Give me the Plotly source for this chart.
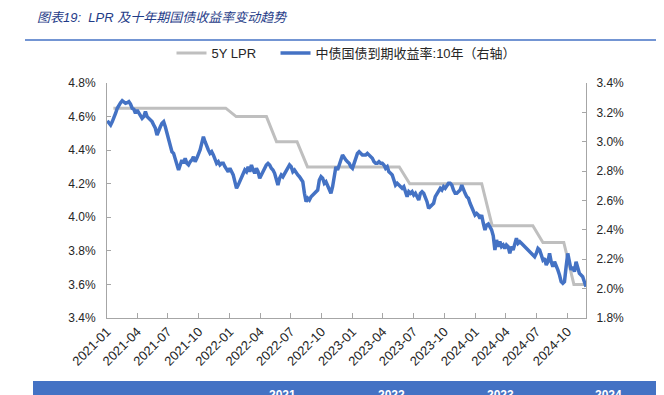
import pandas as pd
import plotly.graph_objects as go

# ---- data ----
lpr_months_start = "2021-01-01"
lpr_values = (
    [4.65] * 12 +   # 2021-01 .. 2021-12
    [4.60] * 4 +    # 2022-01 .. 2022-04
    [4.45] * 3 +    # 2022-05 .. 2022-07
    [4.30] * 10 +   # 2022-08 .. 2023-05
    [4.20] * 8 +    # 2023-06 .. 2024-01
    [3.95] * 5 +    # 2024-02 .. 2024-06
    [3.85] * 3 +    # 2024-07 .. 2024-09
    [3.60] * 2      # 2024-10 .. 2024-11
)
lpr_dates = pd.date_range(lpr_months_start, periods=len(lpr_values), freq="MS") + pd.Timedelta(days=19)

cgb_start = "2021-01-02"
cgb_end = "2024-11-25"
cgb10_values = [
    3.143, 3.126, 3.114, 3.137, 3.159, 3.194, 3.228, 3.250, 3.266, 3.280,
    3.273, 3.262, 3.266, 3.273, 3.257, 3.228, 3.221, 3.194, 3.216, 3.194,
    3.171, 3.159, 3.171, 3.205, 3.171, 3.159, 3.148, 3.137, 3.114, 3.092,
    3.046, 3.068, 3.102, 3.126, 3.137, 3.102, 3.057, 3.012, 2.955, 2.932,
    2.921, 2.876, 2.842, 2.808, 2.842, 2.876, 2.853, 2.887, 2.853, 2.842,
    2.864, 2.876, 2.898, 2.864, 2.887, 2.910, 2.944, 2.989,
    3.034, 3.000, 2.966, 2.944, 2.921, 2.932, 2.910, 2.887, 2.853, 2.864,
    2.842, 2.853, 2.853, 2.830, 2.808, 2.796, 2.819, 2.796, 2.774, 2.728,
    2.683, 2.705, 2.728, 2.751, 2.785, 2.808, 2.796, 2.830, 2.796, 2.842,
    2.808, 2.785, 2.819, 2.796, 2.751, 2.774, 2.808, 2.830, 2.842, 2.853,
    2.842, 2.819, 2.808, 2.785, 2.751, 2.705, 2.751, 2.774, 2.762, 2.785,
    2.796, 2.830, 2.842, 2.830, 2.796, 2.808,
    2.785, 2.774, 2.762, 2.740, 2.728, 2.649, 2.592, 2.615, 2.603, 2.626,
    2.637, 2.649, 2.660, 2.671, 2.740, 2.762, 2.751, 2.717, 2.728, 2.705,
    2.683, 2.649, 2.694, 2.785, 2.830, 2.808, 2.853, 2.876, 2.910, 2.887,
    2.876, 2.864, 2.853, 2.830, 2.819, 2.853, 2.898, 2.921, 2.932, 2.921,
    2.910, 2.910, 2.910, 2.921, 2.910, 2.898, 2.887, 2.864, 2.853, 2.853,
    2.864, 2.853, 2.853, 2.842, 2.819, 2.830, 2.796, 2.785,
    2.774, 2.740, 2.705, 2.717, 2.705, 2.694, 2.683, 2.694, 2.660, 2.626,
    2.660, 2.649, 2.660, 2.637, 2.649, 2.626, 2.603, 2.649, 2.660, 2.649,
    2.626, 2.592, 2.547, 2.558, 2.569, 2.581, 2.626, 2.649, 2.671, 2.683,
    2.671, 2.694, 2.683, 2.705, 2.717, 2.717, 2.705, 2.671, 2.649, 2.649,
    2.660, 2.671, 2.705, 2.683, 2.649, 2.626, 2.615, 2.581, 2.558, 2.535,
    2.501, 2.512, 2.501, 2.478, 2.501, 2.445, 2.399, 2.433,
    2.440, 2.420, 2.400, 2.360, 2.263, 2.331, 2.286, 2.320, 2.286, 2.297,
    2.274, 2.297, 2.286, 2.240, 2.286, 2.263, 2.309, 2.343, 2.309, 2.320,
    2.309, 2.297, 2.286, 2.274, 2.263, 2.251, 2.240, 2.229, 2.217, 2.240,
    2.274, 2.263, 2.229, 2.195, 2.206, 2.161, 2.183, 2.240, 2.183, 2.149,
    2.183, 2.161, 2.127, 2.093, 2.047, 2.036, 2.047, 2.149, 2.240, 2.183,
    2.127, 2.149, 2.115, 2.183, 2.138, 2.104, 2.093, 2.081, 2.047, 2.013,
]
cgb_dates = pd.date_range(cgb_start, cgb_end, periods=len(cgb10_values))

x_range = ["2021-01-01", "2024-11-25"]
x_tick_vals = pd.date_range("2021-01-01", "2024-10-01", freq="QS")
x_tick_text = [d.strftime("%Y-%m") for d in x_tick_vals]
bottom_years = ["2021", "2022", "2023", "2024"]

title_text = "图表19:  LPR 及十年期国债收益率变动趋势"
lpr_name = "5Y LPR" + "\u00a0" * 4
cgb_name = "中债国债到期收益率:10年（右轴）"

# ---- figure ----
FONT = "Liberation Sans, Arial, Noto Sans CJK SC, sans-serif"
AXIS_COLOR = "#A6A6A6"
TEXT_COLOR = "#262626"
BLUE = "#4472C4"
GRAY = "#BFBFBF"

# the page body adds an 8px margin, so the figure is laid out in page pixels minus 8
OFF = 8
W, H = 664 - OFF, 395 - OFF
PLOT_L, PLOT_R, PLOT_T, PLOT_B = 107, 586, 83, 318   # page pixels of the plot area
L, R = PLOT_L - OFF, W - (PLOT_R - OFF)
T, B = PLOT_T - OFF, H - (PLOT_B - OFF)
pw, ph = PLOT_R - PLOT_L, PLOT_B - PLOT_T

def px_to_paper_x(px):
    return (px - PLOT_L) / pw

def px_to_paper_y(py):
    return (PLOT_B - py) / ph

fig = go.Figure()
fig.add_trace(go.Scatter(x=lpr_dates, y=lpr_values, name=lpr_name, mode="lines",
                         line=dict(color=GRAY, width=3), yaxis="y"))
fig.add_trace(go.Scatter(x=cgb_dates, y=cgb10_values, name=cgb_name, mode="lines",
                         line=dict(color=BLUE, width=3.5), yaxis="y2"))

fig.update_layout(
    width=W, height=H,
    margin=dict(l=L, r=R, t=T, b=B, pad=0),
    paper_bgcolor="white", plot_bgcolor="white",
    font=dict(family=FONT, size=12, color=TEXT_COLOR),
    showlegend=True,
    legend=dict(orientation="h", x=0.5, xanchor="center", y=px_to_paper_y(53), yanchor="middle",
                font=dict(size=13, color=TEXT_COLOR), bgcolor="rgba(0,0,0,0)",
                itemwidth=30, traceorder="normal"),
    xaxis=dict(type="date", range=x_range, tickvals=x_tick_vals, ticktext=x_tick_text,
               tickangle=-45, ticks="inside", ticklen=5, tickcolor=AXIS_COLOR,
               showline=True, linecolor=AXIS_COLOR, linewidth=1, showgrid=False,
               zeroline=False, tickfont=dict(size=13, color=TEXT_COLOR)),
    yaxis=dict(range=[3.4, 4.8], dtick=0.2, tick0=3.4, tickformat=".1f", ticksuffix="%",
               ticks="inside", ticklen=4, tickcolor=AXIS_COLOR,
               showline=True, linecolor=AXIS_COLOR, linewidth=1, showgrid=False,
               zeroline=False, tickfont=dict(size=12, color=TEXT_COLOR), ticklabelstandoff=8),
    yaxis2=dict(range=[1.8, 3.4], dtick=0.2, tick0=1.8, tickformat=".1f", ticksuffix="%",
                overlaying="y", side="right",
                ticks="inside", ticklen=4, tickcolor=AXIS_COLOR,
                showline=True, linecolor=AXIS_COLOR, linewidth=1, showgrid=False,
                zeroline=False, tickfont=dict(size=12, color=TEXT_COLOR), ticklabelstandoff=7),
)

# title and rule
fig.add_annotation(text="<i>" + title_text + "</i>", xref="paper", yref="paper",
                   x=px_to_paper_x(35), y=px_to_paper_y(18), xanchor="left", yanchor="middle",
                   showarrow=False, font=dict(size=13, color="#1F3C88",
                                              family="Liberation Sans, Noto Sans CJK SC, sans-serif"))
fig.add_shape(type="line", xref="paper", yref="paper",
              x0=px_to_paper_x(25), x1=px_to_paper_x(670), y0=px_to_paper_y(40), y1=px_to_paper_y(40),
              line=dict(color=BLUE, width=1.5))

# bottom blue strip
fig.add_shape(type="rect", xref="paper", yref="paper",
              x0=px_to_paper_x(33), x1=px_to_paper_x(670), y0=px_to_paper_y(381), y1=px_to_paper_y(400),
              fillcolor=BLUE, line=dict(width=0), layer="above")
for yr, cx in zip(bottom_years, [282, 391, 500, 608]):
    fig.add_annotation(text="<b>" + yr + "</b>", xref="paper", yref="paper",
                       x=px_to_paper_x(cx), y=px_to_paper_y(386), xanchor="center", yanchor="top",
                       showarrow=False, font=dict(size=12, color="white"))

fig.write_html("out.html")
